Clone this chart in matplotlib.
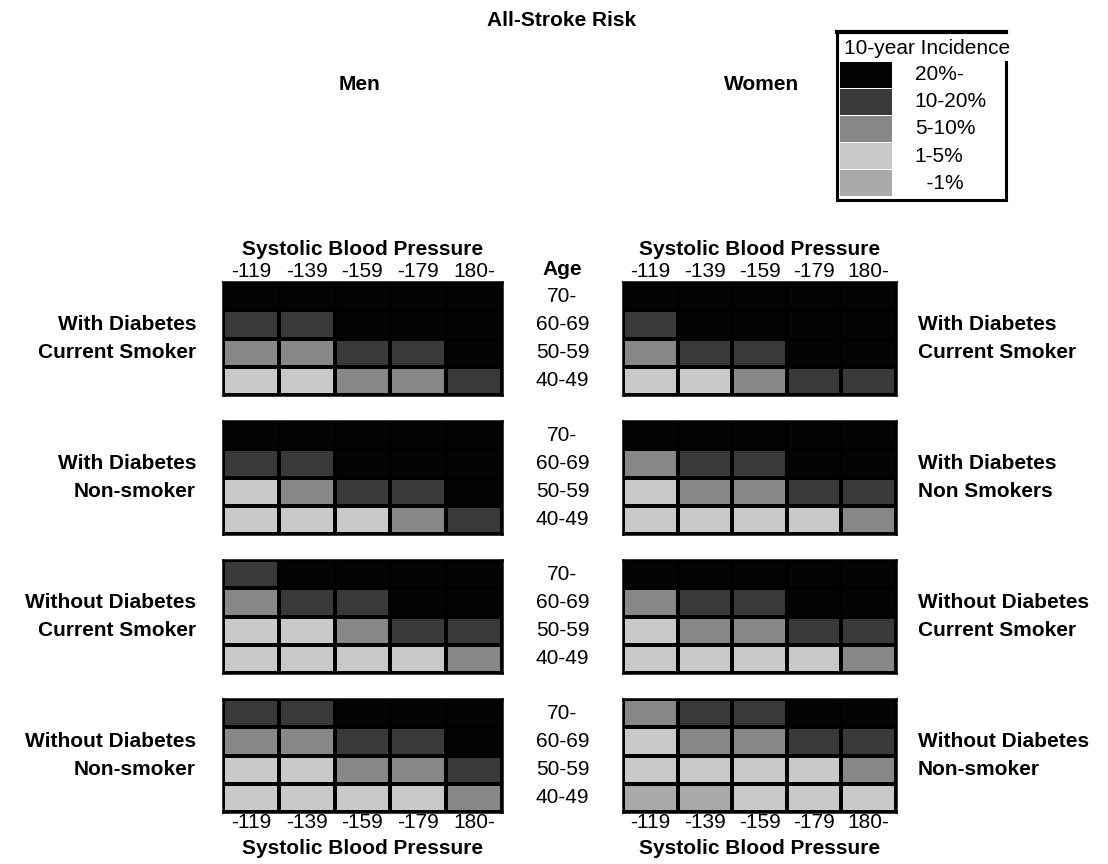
import matplotlib
matplotlib.use("Agg")
import matplotlib.pyplot as plt
import numpy as np
from matplotlib.colors import ListedColormap, BoundaryNorm
from matplotlib.transforms import blended_transform_factory

plt.rcParams['font.family'] = ['Liberation Sans', 'DejaVu Sans']

# ---------------- data ----------------
categories = ["-1%", "1-5%", "5-10%", "10-20%", "20%-"]   # index 0..4
cat_colors = ["#a9a9a9", "#c9c9c9", "#878787", "#393939", "#040404"]
sbp_labels = ["-119", "-139", "-159", "-179", "180-"]
age_labels = ["70-", "60-69", "50-59", "40-49"]

# rows: 70-, 60-69, 50-59, 40-49 ; columns: SBP groups
men_dm_smoker = [[4, 4, 4, 4, 4],
                 [3, 3, 4, 4, 4],
                 [2, 2, 3, 3, 4],
                 [1, 1, 2, 2, 3]]
women_dm_smoker = [[4, 4, 4, 4, 4],
                   [3, 4, 4, 4, 4],
                   [2, 3, 3, 4, 4],
                   [1, 1, 2, 3, 3]]
men_dm_nonsmoker = [[4, 4, 4, 4, 4],
                    [3, 3, 4, 4, 4],
                    [1, 2, 3, 3, 4],
                    [1, 1, 1, 2, 3]]
women_dm_nonsmoker = [[4, 4, 4, 4, 4],
                      [2, 3, 3, 4, 4],
                      [1, 2, 2, 3, 3],
                      [1, 1, 1, 1, 2]]
men_nodm_smoker = [[3, 4, 4, 4, 4],
                   [2, 3, 3, 4, 4],
                   [1, 1, 2, 3, 3],
                   [1, 1, 1, 1, 2]]
women_nodm_smoker = [[4, 4, 4, 4, 4],
                     [2, 3, 3, 4, 4],
                     [1, 2, 2, 3, 3],
                     [1, 1, 1, 1, 2]]
men_nodm_nonsmoker = [[3, 3, 4, 4, 4],
                      [2, 2, 3, 3, 4],
                      [1, 1, 2, 2, 3],
                      [1, 1, 1, 1, 2]]
women_nodm_nonsmoker = [[2, 3, 3, 4, 4],
                        [1, 2, 2, 3, 3],
                        [1, 1, 1, 1, 2],
                        [0, 0, 1, 1, 1]]

men_groups = [("With Diabetes", "Current Smoker"), ("With Diabetes", "Non-smoker"),
              ("Without Diabetes", "Current Smoker"), ("Without Diabetes", "Non-smoker")]
women_groups = [("With Diabetes", "Current Smoker"), ("With Diabetes", "Non Smokers"),
                ("Without Diabetes", "Current Smoker"), ("Without Diabetes", "Non-smoker")]
men_data = [men_dm_smoker, men_dm_nonsmoker, men_nodm_smoker, men_nodm_nonsmoker]
women_data = [women_dm_smoker, women_dm_nonsmoker, women_nodm_smoker, women_nodm_nonsmoker]

# ---------------- figure ----------------
W, H = 1108, 864
fig = plt.figure(figsize=(W / 100, H / 100), dpi=100)
fig.patch.set_facecolor("white")

def px(x, y, w, h):
    return [x / W, 1 - (y + h) / H, w / W, h / H]

cmap = ListedColormap(cat_colors)
norm = BoundaryNorm(np.arange(-0.5, 5.5, 1), cmap.N)

FS = 15
panel_tops = [282, 421, 560, 699]
panel_h = 113
men_x, men_w = 223, 279
wom_x, wom_w = 623, 273
age_x = 562.5 / W

def draw_panel(rect, data, top, bottom):
    ax = fig.add_axes(rect)
    arr = np.array(data)
    ax.pcolormesh(np.arange(arr.shape[1] + 1), np.arange(arr.shape[0] + 1), arr,
                  cmap=cmap, norm=norm, edgecolors="black", linewidth=1.5)
    ax.set_xlim(0, arr.shape[1])
    ax.set_ylim(arr.shape[0], 0)
    for s in ax.spines.values():
        s.set_linewidth(1.8)
    ax.set_yticks([])
    ax.set_xticks(np.arange(arr.shape[1]) + 0.5)
    ax.tick_params(axis="x", length=0, labelsize=FS, pad=1,
                   top=top, labeltop=top, bottom=bottom, labelbottom=bottom)
    ax.set_xticklabels(sbp_labels)
    if top:
        ax.set_xlabel("Systolic Blood Pressure", fontsize=FS, fontweight="bold", labelpad=5)
        ax.xaxis.set_label_position("top")
    elif bottom:
        ax.set_xlabel("Systolic Blood Pressure", fontsize=FS, fontweight="bold", labelpad=5)
    return ax

for i in range(4):
    top = i == 0
    bottom = i == 3
    axm = draw_panel(px(men_x, panel_tops[i], men_w, panel_h), men_data[i], top, bottom)
    axw = draw_panel(px(wom_x, panel_tops[i], wom_w, panel_h), women_data[i], top, bottom)
    # age labels
    tr = blended_transform_factory(fig.transFigure, axm.transData)
    for r, lab in enumerate(age_labels):
        axm.text(age_x, r + 0.5, lab, transform=tr, ha="center", va="center", fontsize=FS)
    if top:
        axm.text(age_x, -0.45, "Age", transform=tr, ha="center", va="center",
                 fontsize=FS, fontweight="bold")
    # group labels (centred vertically on each panel)
    trm = blended_transform_factory(fig.transFigure, axm.transData)
    axm.text(196 / W, 1.5, men_groups[i][0], transform=trm, ha="right", va="center",
             fontsize=FS, fontweight="bold")
    axm.text(196 / W, 2.5, men_groups[i][1], transform=trm, ha="right", va="center",
             fontsize=FS, fontweight="bold")
    trw = blended_transform_factory(fig.transFigure, axw.transData)
    axw.text(918 / W, 1.5, women_groups[i][0], transform=trw, ha="left", va="center",
             fontsize=FS, fontweight="bold")
    axw.text(918 / W, 2.5, women_groups[i][1], transform=trw, ha="left", va="center",
             fontsize=FS, fontweight="bold")

fig.text(562 / W, 1 - 21 / H, "All-Stroke Risk", ha="center", va="center",
         fontsize=FS, fontweight="bold")
fig.text(360 / W, 1 - 85 / H, "Men", ha="center", va="center", fontsize=FS, fontweight="bold")
fig.text(762 / W, 1 - 85 / H, "Women", ha="center", va="center", fontsize=FS, fontweight="bold")

# ---------------- legend ----------------
lax = fig.add_axes(px(837, 32, 169, 168))
row_h = 27.2
lax.set_xlim(0, 1)
lax.set_ylim(4.5 + 3 / row_h, -0.5 - 29 / row_h)
order = [4, 3, 2, 1, 0]
lax.barh(np.arange(5), [0.31] * 5, left=0.018, height=0.96,
         color=[cat_colors[k] for k in order])
leg_text = ["20%-", "10-20%", "5-10%", "1-5%", "  -1%"]
for r, lab in enumerate(leg_text):
    lax.text(0.46, r, lab, ha="left", va="center", fontsize=FS)
lax.text(0.04, -0.5 - 13 / row_h, "10-year Incidence", ha="left", va="center", fontsize=FS)
lax.set_xticks([])
lax.set_yticks([])
for s in lax.spines.values():
    s.set_linewidth(2.2)
lax.spines["top"].set_linewidth(3)
lax.spines["right"].set_bounds(-0.5 + 0.05, 4.5 + 3 / row_h)

fig.savefig("out.png", dpi=100, facecolor="white")
